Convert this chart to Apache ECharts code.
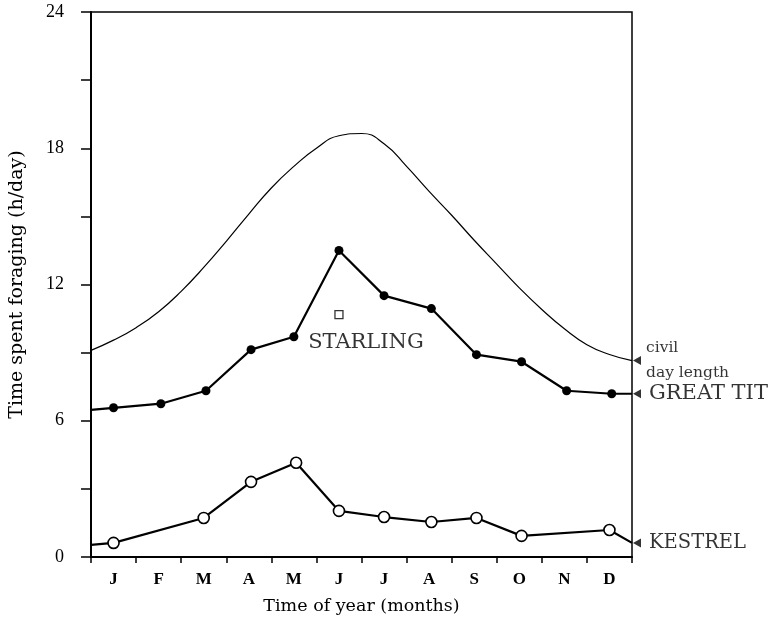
<!DOCTYPE html>
<html>
<head>
<meta charset="utf-8">
<script src="https://cdn.jsdelivr.net/npm/echarts@6/dist/echarts.min.js"></script>
<style>html,body{margin:0;padding:0;background:#fff}#c{width:778px;height:626px}</style>
</head>
<body>
<div id="c"></div>
<script>
// month labels and tick positions
var months = ['J','F','M','A','M','J','J','A','S','O','N','D'];
var monthTicks = [0,1,2,3,4,5,6,7,8,9,10,11,12];
var monthCenters = [0.5,1.5,2.5,3.5,4.5,5.5,6.5,7.5,8.5,9.5,10.5,11.5];
var yTicks = [0,6,12,18,24];

// civil day length (x in months, y in h/day), read every half month
var dayX = [0,0.5,1,1.5,2,2.5,3,3.5,4,4.5,5,5.5,6,6.5,7,7.5,8,8.5,9,9.5,10,10.5,11,11.5,12];
var dayY = [9.1,9.55,10.1,10.8,11.7,12.75,13.9,15.1,16.25,17.2,18.0,18.55,18.65,18.2,17.2,16.1,15.05,13.95,12.9,11.85,10.9,10.05,9.35,8.92,8.65];

// great tit
var titX = [0,0.5,1.55,2.55,3.55,4.5,5.5,6.5,7.55,8.55,9.55,10.55,11.55,12];
var titY = [6.48,6.57,6.75,7.32,9.13,9.7,13.5,11.51,10.94,8.91,8.6,7.32,7.19,7.19];

// kestrel
var kesX = [0,0.5,2.5,3.55,4.55,5.5,6.5,7.55,8.55,9.55,11.5,12];
var kesY = [0.53,0.62,1.72,3.31,4.15,2.03,1.76,1.54,1.72,0.93,1.19,0.62];

// starling
var starX = [5.5];
var starY = [10.67];

// right-side labels
var endNames = ['civil\nday length','GREAT TIT','KESTREL'];
var endY = [8.65,7.19,0.62];
var endFontSizes = [15.5,21,19.5];

function pairs(xs, ys, hideEnds){
  return xs.map(function(x,i){
    var it = {value:[x, ys[i]]};
    if (hideEnds && (i===0 || i===xs.length-1)) it.symbol = 'none';
    return it;
  });
}

var font = 'Liberation Serif';
var font2 = 'DejaVu Serif';
var chart = echarts.init(document.getElementById('c'));
chart.setOption({
  animation:false,
  backgroundColor:'#fff',
  textStyle:{fontFamily:font, color:'#000'},
  grid:{left:90, right:146, top:12, bottom:69, show:true, borderColor:'#000', borderWidth:1.5, backgroundColor:'transparent'},
  xAxis:{
    type:'value', min:0, max:12,
    name:'Time of year (months)', nameLocation:'middle', nameGap:40,
    nameTextStyle:{fontFamily:font2, fontSize:17.5, color:'#000'},
    axisLine:{show:true, lineStyle:{color:'#000', width:2}},
    axisTick:{show:true, customValues:monthTicks, length:6, inside:false, lineStyle:{color:'#000', width:1.5}},
    axisLabel:{customValues:monthCenters, margin:14, fontFamily:font, fontSize:17, fontWeight:'bold', color:'#000',
      formatter:function(v){ return months[Math.floor(v)]; }},
    splitLine:{show:false}
  },
  yAxis:{
    type:'value', min:0, max:24, interval:3,
    name:'Time spent foraging (h/day)', nameLocation:'middle', nameGap:64,
    nameTextStyle:{fontFamily:font2, fontSize:19, color:'#000'},
    axisLine:{show:true, lineStyle:{color:'#000', width:2}},
    axisTick:{show:true, length:10, lineStyle:{color:'#000', width:1.5}},
    axisLabel:{margin:27, fontFamily:font, fontSize:18, color:'#000',
      formatter:function(v){ return yTicks.indexOf(v) >= 0 ? String(v) : ''; }},
    splitLine:{show:false}
  },
  series:[
    {
      name:'civil day length', type:'line', smooth:0.5, symbol:'none',
      data:pairs(dayX, dayY, false),
      lineStyle:{color:'#000', width:1.2}
    },
    {
      name:'GREAT TIT', type:'line', symbol:'circle', symbolSize:9,
      data:pairs(titX, titY, true),
      itemStyle:{color:'#000'},
      lineStyle:{color:'#000', width:2.2}
    },
    {
      name:'KESTREL', type:'line', symbol:'circle', symbolSize:11,
      data:pairs(kesX, kesY, true),
      itemStyle:{color:'#fff', borderColor:'#000', borderWidth:1.6},
      lineStyle:{color:'#000', width:2.2}
    },
    {
      name:'STARLING', type:'scatter', symbol:'rect', symbolSize:8,
      data:starX.map(function(x,i){return [x, starY[i]];}),
      itemStyle:{color:'#fff', borderColor:'#000', borderWidth:1.3},
      label:{show:true, position:'bottom', formatter:'STARLING', fontFamily:font2, fontSize:21, color:'#000', distance:13, offset:[27,0]}
    },
    {
      name:'ends', type:'scatter', symbol:'triangle', symbolSize:[9,8], symbolRotate:90, symbolOffset:[5,0],
      clip:false,
      data:endY.map(function(y,i){
        var it = {value:[12, y], name:endNames[i], label:{fontSize:endFontSizes[i]}};
        if (i===0) it.label.distance = 5;
        return it;
      }),
      itemStyle:{color:'#000'},
      label:{show:true, position:'right', distance:8, formatter:function(p){return p.name;},
        fontFamily:font2, fontSize:19.5, color:'#000', lineHeight:25}
    }
  ]
});
</script>
</body>
</html>
